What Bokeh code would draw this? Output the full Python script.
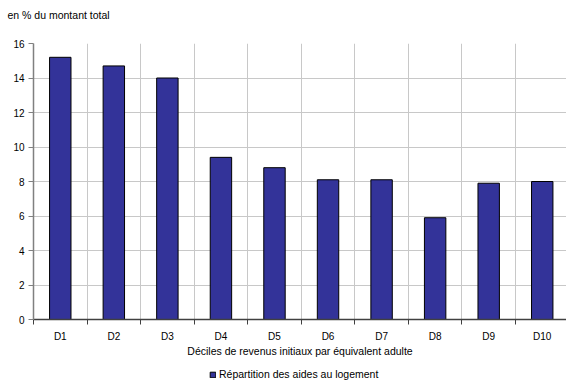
from bokeh.plotting import figure
from bokeh.models import Range1d, FixedTicker, ColumnDataSource, Title, Legend, LegendItem
from bokeh.layouts import column
from bokeh.embed import file_html
from bokeh.resources import INLINE

# Share of housing benefits by decile of initial income per adult equivalent
deciles = ["D1", "D2", "D3", "D4", "D5", "D6", "D7", "D8", "D9", "D10"]
shares = [15.2, 14.7, 14.0, 9.4, 8.8, 8.1, 8.1, 5.9, 7.9, 8.0]
y_ticks = [0, 2, 4, 6, 8, 10, 12, 14, 16]
series_name = "Répartition des aides au logement"

FONT = "Liberation Sans"
BAR_STYLE = dict(fill_color="#333399", line_color="#000000", line_width=1)

centers = [i + 0.5 for i in range(len(deciles))]
source = ColumnDataSource(dict(x=centers, share=shares, decile=deciles))

p = figure(
    frame_width=533, frame_height=276,
    x_range=Range1d(0, 9.953), y_range=Range1d(0, 16),
    output_backend="svg", toolbar_location=None,
    min_border_left=33, min_border_right=0, min_border_top=43, min_border_bottom=41,
)
p.outline_line_color = None
p.background_fill_color = "white"
p.border_fill_color = "white"

# unit note above the plot area, with a blank spacer title below it
p.title = None
spacer = Title(text=" ", text_font=FONT, text_font_size="8px", standoff=12)
note = Title(text="en % du montant total", text_font=FONT, text_font_size="10.5px",
             text_font_style="normal", text_color="#000000", align="left", offset=-26,
             standoff=0)
p.add_layout(spacer, "above")
p.add_layout(note, "above")

p.vbar(x="x", top="share", width=0.4, source=source, **BAR_STYLE)

# y axis
p.yaxis.ticker = FixedTicker(ticks=y_ticks, minor_ticks=[])
p.yaxis.axis_line_color = "#808080"
p.yaxis.axis_line_width = 1.5
p.yaxis.major_tick_line_color = "#808080"
p.yaxis.major_tick_in = 0
p.yaxis.major_tick_out = 5
p.yaxis.minor_tick_line_color = None
p.yaxis.major_label_standoff = 4
p.yaxis.major_label_text_font = FONT
p.yaxis.major_label_text_font_size = "10px"
p.yaxis.major_label_text_color = "#000000"

# x axis: labels at bar centres, tick marks at decile boundaries
p.xaxis.ticker = FixedTicker(ticks=centers, minor_ticks=list(range(0, 11)))
p.xaxis.major_label_overrides = {c: d for c, d in zip(centers, deciles)}
p.xaxis.axis_line_color = "#404040"
p.xaxis.axis_line_width = 1.5
p.xaxis.major_tick_line_color = None
p.xaxis.major_tick_in = 0
p.xaxis.major_tick_out = 0
p.xaxis.minor_tick_line_color = "#404040"
p.xaxis.minor_tick_in = 0
p.xaxis.minor_tick_out = 5
p.xaxis.major_label_standoff = 6
p.xaxis.major_label_text_font = FONT
p.xaxis.major_label_text_font_size = "10px"
p.xaxis.major_label_text_color = "#000000"
p.xaxis.axis_label = "Déciles de revenus initiaux par équivalent adulte"
p.xaxis.axis_label_text_font = FONT
p.xaxis.axis_label_text_font_size = "10.5px"
p.xaxis.axis_label_text_font_style = "normal"
p.xaxis.axis_label_text_color = "#000000"
p.xaxis.axis_label_standoff = 0

# grid
p.xgrid.ticker = FixedTicker(ticks=list(range(0, 11)))
p.xgrid.grid_line_color = "#c8c8c8"
p.xgrid.grid_line_width = 1
p.ygrid.ticker = FixedTicker(ticks=y_ticks)
p.ygrid.grid_line_color = "#c8c8c8"
p.ygrid.grid_line_width = 1

# legend strip under the chart: same series, its bars kept below the visible range
lf = figure(
    width=566, height=20, x_range=Range1d(0, 9.953), y_range=Range1d(40, 56),
    x_axis_type=None, y_axis_type=None,
    output_backend="svg", toolbar_location=None,
    min_border_left=0, min_border_right=0, min_border_top=0, min_border_bottom=0,
)
lf.outline_line_color = None
lf.grid.visible = False
lf.border_fill_color = "white"
key_bars = lf.vbar(x="x", top="share", width=0.4, source=source, **BAR_STYLE)

leg = Legend(items=[LegendItem(label=series_name, renderers=[key_bars])])
leg.orientation = "horizontal"
leg.location = (176, 0)
leg.border_line_color = None
leg.background_fill_alpha = 0
leg.padding = 0
leg.margin = 0
leg.spacing = 0
leg.glyph_width = 7
leg.glyph_height = 7
leg.label_standoff = 3
leg.label_text_font = FONT
leg.label_text_font_size = "10.5px"
leg.label_text_color = "#000000"
leg.label_height = 7
lf.add_layout(leg)

open("out.html", "w").write(file_html(column(p, lf, spacing=0), INLINE))
